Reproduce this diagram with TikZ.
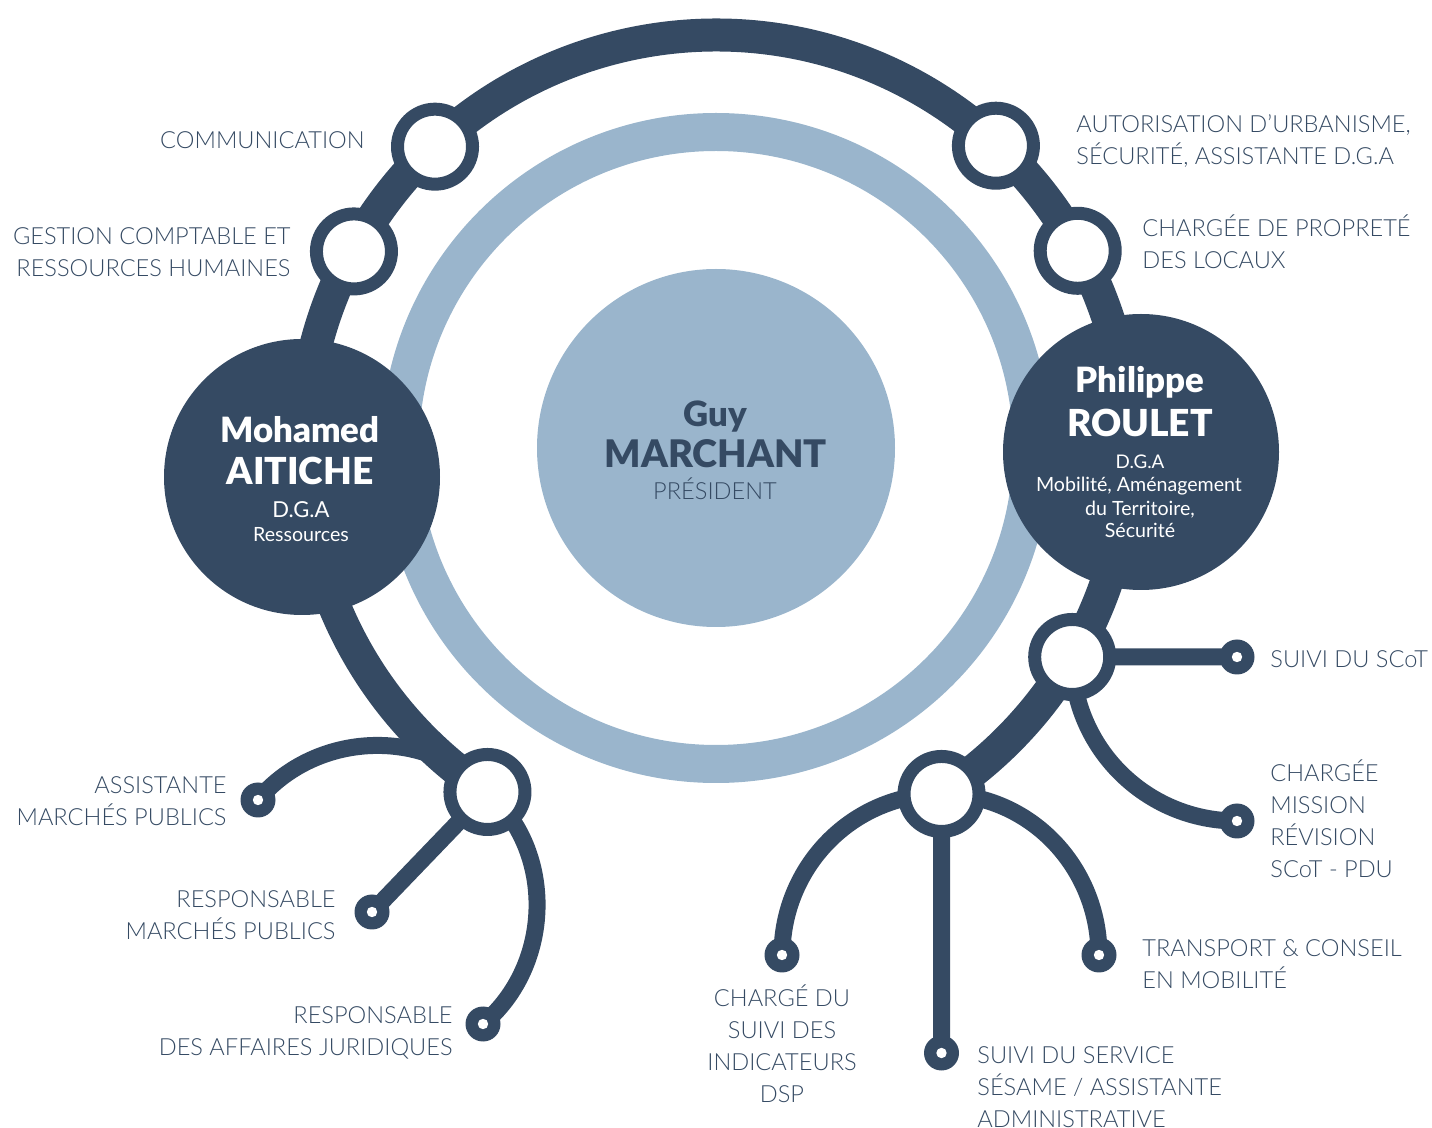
\documentclass[tikz,border=0pt]{standalone}
\usepackage{fontspec}
\setmainfont{Lato}
\IfFontExistsTF{Lato Light}{\newfontfamily\thinf{Lato Light}}{\newfontfamily\thinf{Lato}}
\IfFontExistsTF{Lato Black}{\newfontfamily\heavyf{Lato Black}}{\newfontfamily\heavyf{Lato}[UprightFont={* Bold}]}
\usetikzlibrary{calc}
\definecolor{navy}{HTML}{354A63}
\definecolor{pale}{HTML}{9AB5CC}
\pgfdeclarelayer{back}
\pgfdeclarelayer{links}
\pgfsetlayers{back,links,main}
\begin{document}
\begin{tikzpicture}[x=0.5pt,y=0.5pt,
  hub/.style={circle, draw=navy, line width=6.5pt, fill=white, minimum size=37.5pt, inner sep=0pt},
  leaf/.style={circle, fill=navy, minimum size=17.5pt, inner sep=0pt,
    path picture={\fill[white] (path picture bounding box.center) circle (2.6pt);}},
  chief/.style={circle, fill=navy, minimum size=138pt, inner sep=0pt},
  disc/.style={circle, fill=pale, minimum size=179pt, inner sep=0pt},
  trunk/.style={draw=navy, line width=16.5pt},
  twig/.style={draw=navy, line width=8.5pt, line cap=round},
  lab/.style={font=\thinf\fontsize{11.8}{16}\selectfont, text=navy, inner sep=0pt},
  labr/.style={lab, anchor=north east, align=right},
  labl/.style={lab, anchor=north west, align=left},
  labc/.style={lab, anchor=north, align=center},
  nameb/.style={font=\heavyf\fontsize{#1}{#1}\selectfont, inner sep=0pt, anchor=base},
  namer/.style={font=\fontsize{#1}{#1}\selectfont, inner sep=0pt, anchor=base},
  namet/.style={font=\thinf\fontsize{#1}{#1}\selectfont, inner sep=0pt, anchor=base},
]
\useasboundingbox (0,0) rectangle (1432,-1128);
\coordinate (O) at (716,-448);

% background: pale ring and president disc
\begin{pgfonlayer}{back}
  \draw[pale, line width=19pt] (O) circle (316);
  \node[disc] (pres) at (O) {};
\end{pgfonlayer}

% chiefs
\node[chief] (aitiche) at (302,-477) {};
\node[chief] (roulet) at (1141,-452) {};

% hubs on the big arc
\node[hub] (nC) at ($(O)+(236.4:413)$) {};
\node[hub] (nB) at ($(O)+(-56.9:413)$) {};
\node[hub] (nA) at ($(O)+(-30.4:413)$) {};
\node[hub] (comm) at ($(O)+(133:412)$) {};
\node[hub] (gest) at ($(O)+(151.5:412)$) {};
\node[hub] (aut) at ($(O)+(47.2:412)$) {};
\node[hub] (prop) at ($(O)+(28.6:412)$) {};

% end dots
\node[leaf] (dScot) at (1237,-657) {};
\node[leaf] (dMission) at (1237,-821) {};
\node[leaf] (dDsp) at (782,-955) {};
\node[leaf] (dSesame) at (941.5,-1053) {};
\node[leaf] (dTransport) at (1099,-955) {};
\node[leaf] (dAssist) at (258,-800) {};
\node[leaf] (dMarches) at (372,-912) {};
\node[leaf] (dJuri) at (483,-1024) {};

% connectors
\begin{pgfonlayer}{links}
  \draw[trunk] (nC.center) arc[start angle=236.4, end angle=-56.9, radius=413];
  \draw[twig] (nA.center) -- (dScot.center);
  \draw[twig] (nA.center) to[out=-90,in=180] (dMission.center);
  \draw[twig] (nB.center) to[out=180,in=90] (dDsp.center);
  \draw[twig] (nB.center) -- (dSesame.center);
  \draw[twig] (nB.center) to[out=0,in=90] (dTransport.center);
  \draw[twig] (nC.center) to[out=133,in=50] (dAssist.center);
  \draw[twig] (nC.center) -- (dMarches.center);
  \draw[twig] (nC.center) to[out=-41,in=40] (dJuri.center);
\end{pgfonlayer}

% president text
\node[nameb=17.4, text=navy] (guy1) at (715,-427) {Guy};
\node[nameb=19, text=navy] (guy2) at (716,-468) {MARCHANT};
\node[namet=11.8, text=navy] (guy3) at (715,-500) {PRÉSIDENT};

% Aitiche text
\node[nameb=17.4, text=white] (ait1) at (300,-443) {Mohamed};
\node[nameb=18.6, text=white] (ait2) at (300,-485) {AITICHE};
\node[namer=11, text=white] (ait3) at (301,-518) {D.G.A};
\node[namer=9.8, text=white] (ait4) at (301,-542) {Ressources};

% Roulet text
\node[nameb=17.4, text=white] (rou1) at (1140,-393) {Philippe};
\node[nameb=18.6, text=white] (rou2) at (1140,-437) {ROULET};
\node[namer=9.4, text=white] (rou3) at (1140,-469) {D.G.A};
\node[namer=9.8, text=white] (rou4) at (1139,-492) {Mobilité, Aménagement};
\node[namer=9.8, text=white] (rou5) at (1140,-515.5) {du Territoire,};
\node[namer=9.8, text=white] (rou6) at (1140,-538) {Sécurité};

% labels
\node[labr] (tComm) at (365,-125) {\rule{0pt}{11.5pt}COMMUNICATION};
\node[labr] (tGest) at (291,-221) {\rule{0pt}{11.5pt}GESTION COMPTABLE ET\\RESSOURCES HUMAINES};
\node[labr] (tAssist) at (227,-770) {\rule{0pt}{11.5pt}ASSISTANTE\\MARCHÉS PUBLICS};
\node[labr] (tMarches) at (336,-884) {\rule{0pt}{11.5pt}RESPONSABLE\\MARCHÉS PUBLICS};
\node[labr] (tJuri) at (453,-1000) {\rule{0pt}{11.5pt}RESPONSABLE\\DES AFFAIRES JURIDIQUES};
\node[labl] (tAut) at (1076,-109) {\rule{0pt}{11.5pt}AUTORISATION D’URBANISME,\\SÉCURITÉ, ASSISTANTE D.G.A};
\node[labl] (tProp) at (1142,-213) {\rule{0pt}{11.5pt}CHARGÉE DE PROPRETÉ\\DES LOCAUX};
\node[labl] (tScot) at (1270,-644) {\rule{0pt}{11.5pt}SUIVI DU SCoT};
\node[labl] (tMission) at (1270,-758) {\rule{0pt}{11.5pt}CHARGÉE\\MISSION\\RÉVISION\\SCoT - PDU};
\node[labl] (tTransport) at (1142,-933) {\rule{0pt}{11.5pt}TRANSPORT \& CONSEIL\\EN MOBILITÉ};
\node[labl] (tSesame) at (977,-1040) {\rule{0pt}{11.5pt}SUIVI DU SERVICE\\SÉSAME / ASSISTANTE\\ADMINISTRATIVE};
\node[labc] (tDsp) at (782,-983) {\rule{0pt}{11.5pt}CHARGÉ DU\\SUIVI DES\\INDICATEURS\\DSP};
\end{tikzpicture}
\end{document}
